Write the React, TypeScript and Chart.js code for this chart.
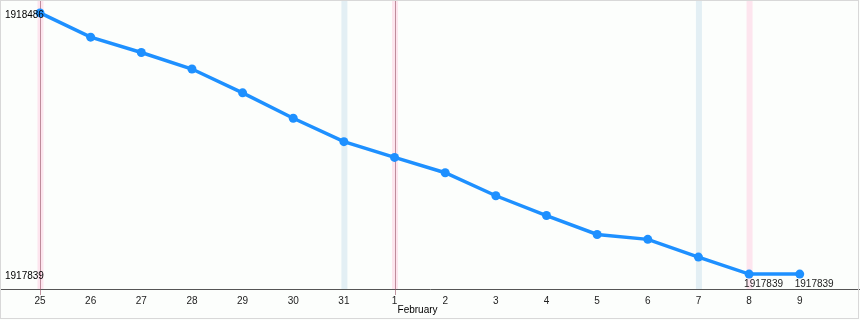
import React, { useEffect, useRef } from 'react';
import { Chart, registerables } from 'chart.js';

Chart.register(...registerables);

// ---- data ----
const dayLabels = ['25', '26', '27', '28', '29', '30', '31', '1', '2', '3', '4', '5', '6', '7', '8', '9'];
const values = [
  1918486, 1918426, 1918388, 1918347, 1918288, 1918225, 1918167, 1918128,
  1918090, 1918033, 1917984, 1917937, 1917925, 1917881, 1917839, 1917839,
];
const monthLabelIdx = [7];
const monthLabelText = ['February'];
const saturdayIdx = [6, 13];
const sundayIdx = [0, 7, 14];
const markerIdx = [0, 7];
const valueLabelIdx = [14, 15];
const yLabelValues = [1918486, 1917839];

// ---- axis ranges ----
const xMin = -0.79;
const xMax = 16.19;
const yMin = 1917802;
const yMax = 1918518;

const FONT = "'Liberation Sans', Arial, sans-serif";

const decorPlugin = {
  id: 'decor',
  beforeDraw(chart: any) {
    const { ctx, width, height } = chart;
    ctx.save();
    ctx.fillStyle = '#fcfefc';
    ctx.fillRect(0, 0, width, height);
    ctx.restore();
  },
  beforeDatasetsDraw(chart: any) {
    const { ctx, chartArea } = chart;
    const xs = chart.scales.x;
    ctx.save();
    const bw = 6;
    saturdayIdx.forEach((i) => {
      const px = xs.getPixelForValue(i);
      ctx.fillStyle = '#e3eff4';
      ctx.fillRect(px - bw / 2 + 0.5, chartArea.top, bw, chartArea.bottom - chartArea.top);
    });
    sundayIdx.forEach((i) => {
      const px = xs.getPixelForValue(i);
      ctx.fillStyle = '#fde5ee';
      ctx.fillRect(px - bw / 2 + 0.5, chartArea.top, bw, chartArea.bottom - chartArea.top);
    });
    markerIdx.forEach((i) => {
      const px = Math.round(xs.getPixelForValue(i));
      ctx.strokeStyle = 'rgba(150,80,100,0.6)';
      ctx.lineWidth = 1;
      ctx.beginPath();
      ctx.moveTo(px + 0.5, chartArea.top);
      ctx.lineTo(px + 0.5, chartArea.bottom + 6);
      ctx.stroke();
    });
    ctx.restore();
  },
  afterDatasetsDraw(chart: any) {
    const { ctx, chartArea, width, height } = chart;
    const xs = chart.scales.x;
    const ys = chart.scales.y;
    ctx.save();
    ctx.font = `10px ${FONT}`;
    ctx.fillStyle = '#000';
    ctx.textBaseline = 'middle';
    ctx.textAlign = 'left';
    yLabelValues.forEach((v) => {
      ctx.fillText(String(v), chartArea.left + 5, ys.getPixelForValue(v) + 2);
    });
    ctx.fillStyle = '#222';
    valueLabelIdx.forEach((i) => {
      ctx.fillText(String(values[i]), xs.getPixelForValue(i) - 5, ys.getPixelForValue(values[i]) + 10.5);
    });
    ctx.fillStyle = '#000';
    monthLabelIdx.forEach((i, k) => {
      ctx.fillText(monthLabelText[k], xs.getPixelForValue(i) + 3, chartArea.bottom + 21);
    });
    ctx.strokeStyle = '#d8d8d8';
    ctx.lineWidth = 1;
    ctx.strokeRect(0.5, 0.5, width - 2, height - 2);
    ctx.restore();
  },
};

export default function App() {
  const ref = useRef<HTMLCanvasElement | null>(null);
  useEffect(() => {
    document.body.style.margin = '0';
    if (!ref.current) return;
    const chart = new Chart(ref.current, {
      type: 'line',
      data: {
        datasets: [
          {
            data: values.map((v, i) => ({ x: i, y: v })),
            borderColor: '#1e90ff',
            backgroundColor: '#1e90ff',
            borderWidth: 3.5,
            pointRadius: 4.5,
            pointBorderWidth: 0,
            tension: 0,
          },
        ],
      },
      options: {
        responsive: false,
        animation: false,
        layout: { padding: 0, autoPadding: false },
        plugins: { legend: { display: false }, tooltip: { enabled: false } },
        scales: {
          x: {
            type: 'linear',
            min: xMin,
            max: xMax,
            afterBuildTicks: (s: any) => {
              s.ticks = dayLabels.map((_, i) => ({ value: i }));
            },
            afterFit: (s: any) => {
              s.height = 31;
            },
            grid: { display: false, drawTicks: false },
            border: { display: true, color: '#555', width: 1 },
            ticks: {
              callback: (v: any) => dayLabels[v as number] ?? '',
              font: { family: FONT, size: 10 },
              color: '#222',
              padding: 6,
              maxRotation: 0,
              autoSkip: false,
            },
          },
          y: {
            display: false,
            min: yMin,
            max: yMax,
          },
        },
      },
      plugins: [decorPlugin],
    } as any);
    return () => chart.destroy();
  }, []);
  return (
    <div style={{ width: 860, height: 320 }}>
      <canvas ref={ref} width={860} height={320} style={{ display: 'block' }} />
    </div>
  );
}
